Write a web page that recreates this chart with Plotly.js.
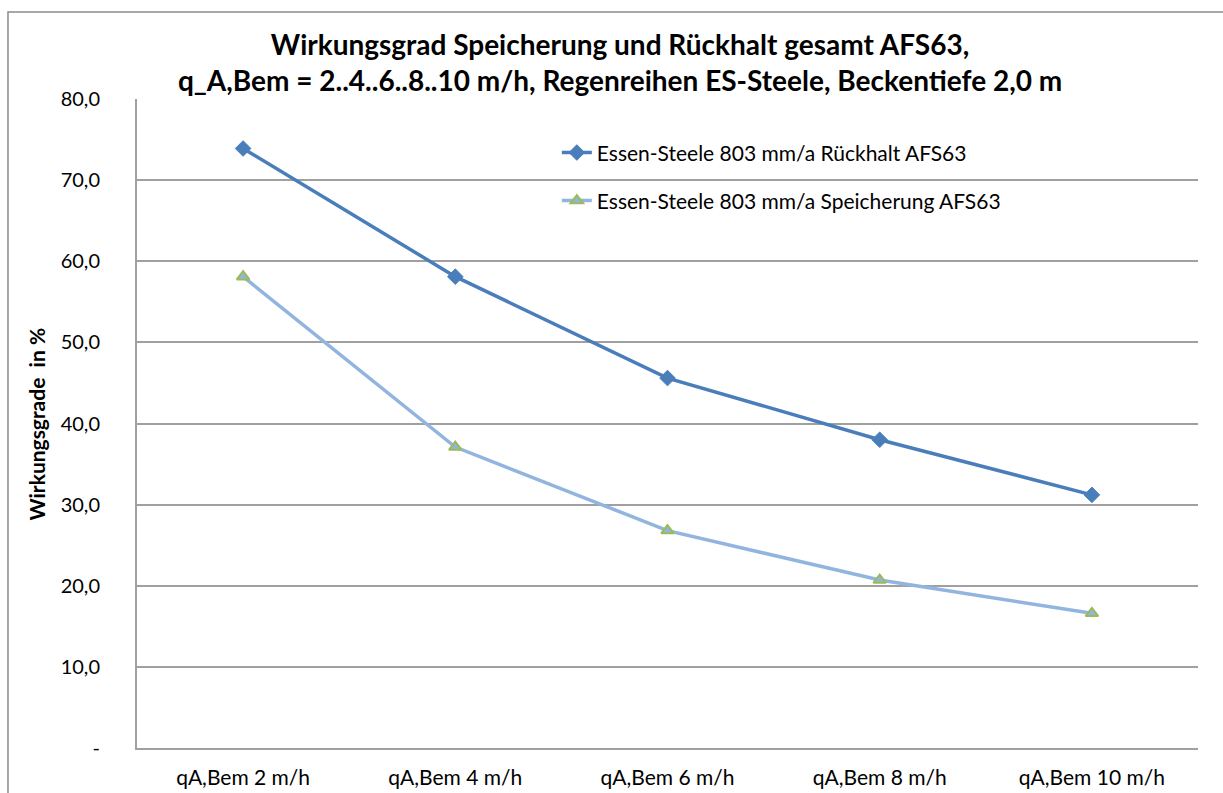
<!DOCTYPE html>
<html>
<head>
<meta charset="utf-8">
<script src="https://cdn.plot.ly/plotly-3.0.1.min.js"></script>
<style>html,body{margin:0;padding:0;background:#fff;}#chart{width:1223px;height:793px;}</style>
</head>
<body>
<div id="chart"></div>
<script>
const categories = ["qA,Bem 2 m/h", "qA,Bem 4 m/h", "qA,Bem 6 m/h", "qA,Bem 8 m/h", "qA,Bem 10 m/h"];
const rueckhalt = [73.9, 58.1, 45.6, 38.0, 31.2];
const speicherung = [58.1, 37.1, 26.8, 20.7, 16.6];
const seriesNames = ["Essen-Steele 803 mm/a Rückhalt AFS63", "Essen-Steele 803 mm/a Speicherung AFS63"];
const yTickVals = [0, 10, 20, 30, 40, 50, 60, 70, 80];
const yTickText = ["-", "10,0", "20,0", "30,0", "40,0", "50,0", "60,0", "70,0", "80,0"];
const yAxisTitle = "Wirkungsgrade  in %";

const FONT = "Lato, 'Open Sans', sans-serif";

const traces = [
  {
    x: categories, y: rueckhalt, name: seriesNames[0], type: "scatter", mode: "lines+markers",
    line: {color: "#4a7ebb", width: 3.5},
    marker: {symbol: "diamond", size: 12, color: "#4a7ebb", line: {color: "#4a7ebb", width: 1}},
    legend: "legend"
  },
  {
    x: categories, y: speicherung, name: seriesNames[1], type: "scatter", mode: "lines+markers",
    line: {color: "#92b5e0", width: 3.5},
    marker: {symbol: "triangle-up", size: 11, color: "#92b5e0", line: {color: "#9bbb59", width: 2}},
    legend: "legend2"
  }
];

const layout = {
  width: 1223, height: 793,
  margin: {l: 137, r: 25, t: 99, b: 45},
  paper_bgcolor: "#ffffff", plot_bgcolor: "#ffffff",
  font: {family: FONT, color: "#000000", size: 21},
  title: {
    text: "<b>Wirkungsgrad Speicherung und Rückhalt gesamt AFS63,<br>q_A,Bem = 2..4..6..8..10 m/h, Regenreihen ES-Steele, Beckentiefe 2,0 m</b>",
    font: {family: FONT, size: 28, color: "#000000"},
    x: 0.507, xref: "container", xanchor: "center",
    y: 0.931, yref: "container", yanchor: "top"
  },
  xaxis: {
    type: "category", range: [-0.5, 4.5],
    showgrid: false, zeroline: false,
    showline: true, linecolor: "#a0a0a0", linewidth: 2,
    ticks: "", ticklabelstandoff: 10,
    tickfont: {family: FONT, size: 21, color: "#000"}
  },
  yaxis: {
    range: [0, 80], tickvals: yTickVals, ticktext: yTickText,
    showgrid: true, gridcolor: "#a0a0a0", gridwidth: 1.5,
    zeroline: false, showline: true, linecolor: "#a0a0a0", linewidth: 2,
    ticks: "", ticklabelstandoff: 31,
    tickfont: {family: FONT, size: 20, color: "#000"}
  },
  annotations: [
    {text: "<b>" + yAxisTitle + "</b>", xref: "paper", yref: "paper", x: -0.0943, y: 0.5,
     xanchor: "center", yanchor: "middle", textangle: -90, showarrow: false,
     font: {family: FONT, size: 21, color: "#000"}}
  ],
  showlegend: true,
  legend: {
    x: 0.3957, xanchor: "left", y: 0.917, yanchor: "middle",
    bgcolor: "rgba(0,0,0,0)", font: {family: FONT, size: 21, color: "#000"}
  },
  legend2: {
    x: 0.3957, xanchor: "left", y: 0.843, yanchor: "middle",
    bgcolor: "rgba(0,0,0,0)", font: {family: FONT, size: 21, color: "#000"}
  },
  shapes: [
    {type: "rect", xref: "paper", yref: "paper", x0: -0.1216, x1: 1.06, y0: -0.12, y1: 1.134,
     line: {color: "#8c8c8c", width: 1.5}, fillcolor: "rgba(0,0,0,0)", layer: "below"}
  ]
};

Plotly.newPlot("chart", traces, layout, {displayModeBar: false, responsive: false});
</script>
</body>
</html>
